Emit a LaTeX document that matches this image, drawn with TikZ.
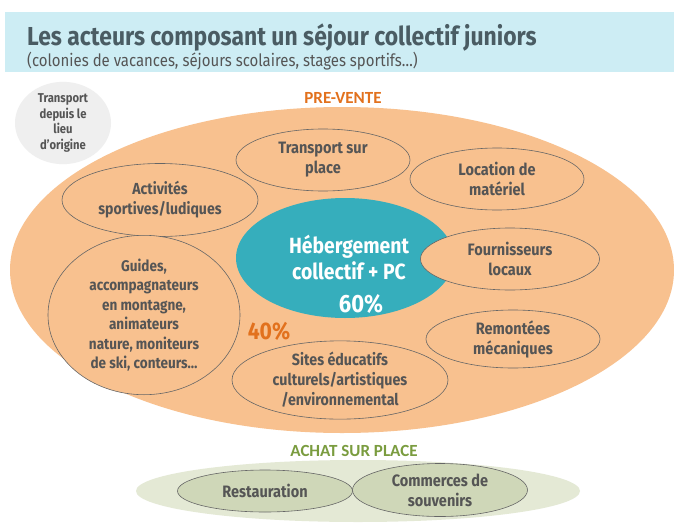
\documentclass[tikz,border=0pt]{standalone}
\usepackage{fontspec}
\setmainfont{Fira Sans}[FakeStretch=0.88]
\newfontfamily\calib{Carlito}
\usetikzlibrary{shapes.geometric}
\definecolor{band}{HTML}{CDEDF4}
\definecolor{titlec}{HTML}{4A5C63}
\definecolor{txt}{HTML}{555555}
\definecolor{orangefill}{HTML}{F8C18F}
\definecolor{orangetxt}{HTML}{E2711D}
\definecolor{teal}{HTML}{36AEBC}
\definecolor{greenbg}{HTML}{E4E9D5}
\definecolor{greenin}{HTML}{CFD7B8}
\definecolor{greentxt}{HTML}{7A9C3F}
\definecolor{grayc}{HTML}{EFEFEF}
\begin{document}
\begin{tikzpicture}[x=1pt,y=-1pt,
  actor/.style={ellipse,draw=txt!90,line width=0.6pt,fill=orangefill,inner sep=0pt,
    text=txt,font=\bfseries\fontsize{16.5}{20}\selectfont,align=center},
  gactor/.style={actor,fill=greenin},
  section/.style={font=\calib\bfseries\fontsize{17}{19}\selectfont},
]
\useasboundingbox (0,0) rectangle (674,522);
\fill[white] (0,0) rectangle (674,522);
% header
\fill[band] (5,12) rectangle (674,72);
\node[anchor=base west,text=titlec,font=\bfseries\fontsize{26}{30}\selectfont,inner sep=0pt] (title) at (27,45) {Les acteurs composant un séjour collectif juniors};
\node[anchor=base west,text=txt,font=\fontsize{17}{19}\selectfont,inner sep=0pt] (subtitle) at (27,66) {(colonies de vacances, séjours scolaires, stages sportifs…)};
% gray transport
\node[ellipse,fill=grayc,minimum width=96pt,minimum height=72pt,text=txt,
  font=\bfseries\fontsize{12.8}{15.5}\selectfont,align=center,inner sep=0pt] (orig) at (63,123) {Transport\\depuis le\\lieu\\d'origine};
% PRE-VENTE
\node[section,text=orangetxt] (pv) at (343,98) {PRE-VENTE};
% big orange ellipse
\node[ellipse,fill=orangefill,minimum width=664pt,minimum height=326pt] (big) at (342,270) {};
% teal center
\node[ellipse,fill=teal,minimum width=218pt,minimum height=120pt] (heb) at (345,258) {};
\node[text=white,font=\bfseries\fontsize{22}{26}\selectfont,align=center] (hebt) at (349,257) {Hébergement\\collectif + PC};
\node[text=white,font=\bfseries\fontsize{25}{28}\selectfont] (p60) at (361,304) {60\%};
% actors
\node[actor,minimum width=174pt,minimum height=62pt] (tsp) at (323,160) {Transport sur\\place};
\node[actor,minimum width=174pt,minimum height=62pt] (loc) at (497,179) {Location de\\matériel};
\node[actor,minimum width=196pt,minimum height=73pt,font=\bfseries\fontsize{16}{20}\selectfont] (act) at (160,200) {Activités\\sportives/ludiques};
\node[actor,minimum width=179pt,minimum height=62pt] (four) at (510,259) {Fournisseurs\\locaux};
\node[actor,minimum width=192pt,minimum height=135pt,font=\bfseries\fontsize{15.4}{19.5}\selectfont] (guides) at (144,315) {Guides,\\accompagnateurs\\en montagne,\\animateurs\\nature, moniteurs\\de ski, conteurs…};
\node[actor,minimum width=174pt,minimum height=58pt] (rem) at (513,339) {Remontées\\mécaniques};
\node[actor,minimum width=216pt,minimum height=75pt,font=\bfseries\fontsize{16.2}{20}\selectfont] (sites) at (340,380) {Sites éducatifs\\culturels/artistiques\\/environnemental};
\node[text=orangetxt,font=\bfseries\fontsize{24}{26}\selectfont] (p40) at (269,331) {40\%};
% achat sur place
\node[section,text=greentxt] (asp) at (354,451) {ACHAT SUR PLACE};
\node[ellipse,fill=greenbg,minimum width=444pt,minimum height=62pt] (green) at (358,491) {};
\node[gactor,minimum width=175pt,minimum height=42pt] (rest) at (265,491) {Restauration};
\node[gactor,minimum width=175pt,minimum height=53pt] (comm) at (440,490) {Commerces de\\souvenirs};
\end{tikzpicture}
\end{document}
